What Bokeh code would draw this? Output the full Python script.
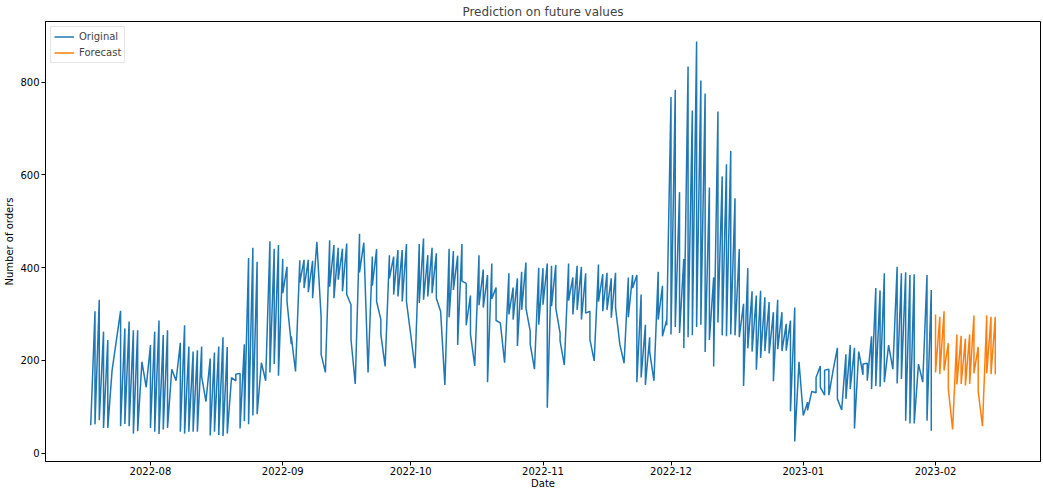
import pandas as pd
from bokeh.plotting import figure
from bokeh.models import (ColumnDataSource, DatetimeTickFormatter, MonthsTicker,
                          SingleIntervalTicker, Range1d, Legend, LegendItem)
from bokeh.embed import file_html
from bokeh.resources import INLINE

# ---- daily order records (a date can hold one or two records) ----
orig_start = "2022-07-18"
orig_end = "2023-01-31"
missing_days = ["2022-07-24", "2022-10-01"]

orig_orders = [
    [60], [306, 62], [331, 71], [262, 54], [244, 54], [178],
    [307, 58], [269, 63], [284, 58], [265, 42], [265, 47], [197], [142],
    [233, 54], [262, 46], [286, 41], [255, 51], [265, 54], [181], [156],
    [238, 46], [276, 42], [230, 46], [219, 46], [222, 46], [230, 165], [111],
    [204, 38], [217, 46], [230, 39], [250, 37], [229, 42], [163], [156, 170],
    [172, 53], [235, 69], [421, 62], [443, 81], [413, 84], [195], [156],
    [457, 174], [441, 192], [449, 167], [419, 345], [402, 327], [235, 252], [176],
    [416, 368], [417, 356], [417, 347], [415, 334], [456], [293, 213], [174],
    [459, 359], [449, 334], [443, 374], [441, 349], [452, 342], [320, 245], [149],
    [473, 390], [454], [174], [424, 361], [440, 327], [288, 256], [187],
    [427, 377], [424, 342], [438, 338], [438, 327], [451, 327], [183],
    [451, 324], [463, 331], [427, 338], [443, 345], [431, 334], [306], [147],
    [441, 293], [436, 352], [426, 233], [451, 371], [366, 276], [340, 256], [188],
    [427, 319], [396, 314], [384, 153], [409, 333], [357, 286], [281], [195],
    [388, 299], [357, 288], [377, 231], [391, 309], [411, 313], [263, 235], [181],
    [400, 277], [399, 320], [409, 98], [404, 317], [406, 313], [259, 242], [190],
    [409, 329], [379, 299], [404, 309], [402, 288], [388, 302], [306, 245], [199],
    [407, 327], [386, 306], [389, 309], [377, 292], [389, 314], [235], [194],
    [379, 293], [384, 356], [384, 153], [342, 163], [277, 147], [250, 219], [156],
    [391, 288], [361, 252], [288, 276], [768, 256], [784, 272], [563, 259], [419, 226],
    [834, 250], [739, 254], [888, 272], [804, 277], [776, 218], [573, 244], [379, 187],
    [737, 282], [597, 254], [623, 252], [652, 256], [550, 254], [440, 250], [322, 145],
    [399, 226], [349, 219], [340, 180], [350, 205], [336, 220], [326, 215], [304, 155],
    [331, 224], [304, 220], [279, 221], [286, 90], [314, 25], [197], [81],
    [110, 92], [133], [130, 163], [188, 142], [125, 179], [181, 125], [179],
    [227, 117], [93], [213, 117], [233, 138], [227, 53], [219], [169, 192],
    [194, 156], [252, 138], [356, 145], [351, 143], [388, 153], [233], [181],
    [402, 150], [388, 160], [390, 70], [384, 64], [386, 64], [192], [153],
    [384, 70], [352, 48],
]

# ---- model forecast ----
fc_start = "2023-02-01"
fc_end = "2023-02-15"
fc_orders = [
    [299, 174], [294, 170], [306, 178], [237, 138], [51], [256, 148], [253, 149],
    [247, 146], [256, 149], [297, 172], [229, 133], [58], [297, 172], [294, 170],
    [294, 170],
]


def explode(days, per_day):
    assert len(days) == len(per_day)
    xs, ys = [], []
    for d, vals in zip(days, per_day):
        for v in vals:
            xs.append(d)
            ys.append(v)
    return xs, ys


orig_days = pd.date_range(orig_start, orig_end)
orig_days = orig_days[~orig_days.isin(pd.to_datetime(missing_days))]
fc_days = pd.date_range(fc_start, fc_end)

ox, oy = explode(orig_days, orig_orders)
fx, fy = explode(fc_days, fc_orders)

src_orig = ColumnDataSource(dict(date=ox, orders=oy))
src_fc = ColumnDataSource(dict(date=fx, orders=fy))

# axis limits with 5% padding around the data
all_x = pd.DatetimeIndex(ox + fx)
all_y = oy + fy
xspan = all_x.max() - all_x.min()
x0 = (all_x.min() - 0.05 * xspan).to_pydatetime()
x1 = (all_x.max() + 0.05 * xspan).to_pydatetime()
yspan = max(all_y) - min(all_y)
y0 = min(all_y) - 0.05 * yspan
y1 = max(all_y) + 0.05 * yspan

FONT = "DejaVu Sans"

p = figure(width=1043, height=491, x_axis_type="datetime",
           x_range=Range1d(x0, x1), y_range=Range1d(y0, y1),
           output_backend="svg", toolbar_location=None,
           title="Prediction on future values")
p.min_border_left = 45
p.min_border_right = 3
p.min_border_top = 18
p.min_border_bottom = 29

p.title.align = "center"
p.title.text_font = FONT
p.title.text_font_size = "12px"
p.title.text_font_style = "normal"
p.title.standoff = 5

p.outline_line_color = "black"
p.outline_line_alpha = 1
p.outline_line_width = 1
p.xgrid.visible = False
p.ygrid.visible = False
p.background_fill_color = "white"
p.border_fill_color = "white"

r1 = p.line("date", "orders", source=src_orig, color="#1f77b4", line_width=1.5)
r2 = p.line("date", "orders", source=src_fc, color="#ff7f0e", line_width=1.5)

p.xaxis.ticker = MonthsTicker(months=list(range(1, 13)))
p.xaxis.formatter = DatetimeTickFormatter(months="%Y-%m", days="%Y-%m",
                                          years="%Y-%m")
p.yaxis.ticker = SingleIntervalTicker(interval=200)
p.xaxis.axis_label = "Date"
p.yaxis.axis_label = "Number of orders"

for ax in (p.xaxis, p.yaxis):
    ax.axis_line_color = "black"
    ax.major_tick_line_color = "black"
    ax.major_tick_in = 0
    ax.major_tick_out = 4
    ax.minor_tick_line_color = None
    ax.major_label_text_font = FONT
    ax.major_label_text_font_size = "10px"
    ax.major_label_text_color = "black"
    ax.axis_label_text_font = FONT
    ax.axis_label_text_font_size = "10px"
    ax.axis_label_text_font_style = "normal"
    ax.axis_label_text_color = "black"
    ax.major_label_standoff = 2
    ax.axis_label_standoff = 2

p.xaxis.major_label_standoff = 1
p.xaxis.axis_label_standoff = 0

legend = Legend(items=[LegendItem(label="Original", renderers=[r1]),
                       LegendItem(label="Forecast", renderers=[r2])],
                location="top_left")
legend.label_text_font = FONT
legend.label_text_font_size = "10px"
legend.glyph_width = 20
legend.glyph_height = 13
legend.label_height = 13
legend.spacing = 3
legend.padding = 3
legend.margin = 5
legend.border_line_color = "#cccccc"
legend.background_fill_alpha = 0.8
p.add_layout(legend)

open("out.html", "w").write(file_html(p, INLINE))
